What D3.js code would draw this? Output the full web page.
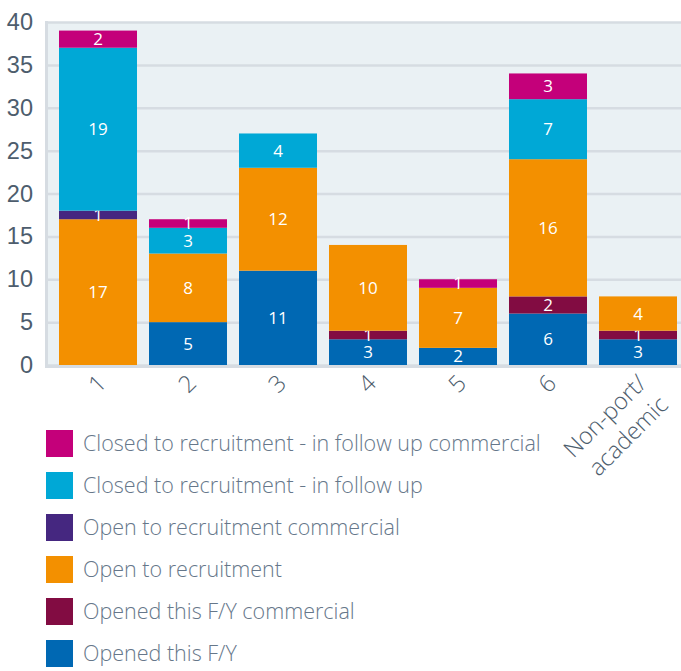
<!DOCTYPE html>
<html lang="en">
<head>
<meta charset="utf-8">
<title>Studies by group</title>
<script src="https://cdn.jsdelivr.net/npm/d3@7/dist/d3.min.js"></script>
<style>
  body { margin: 0; background: #fff; }
  svg { display: block; font-family: "Open Sans", "DejaVu Sans", sans-serif; }
  .tick text { fill: #4d5d6d; font-size: 23.5px; font-weight: 300; }
  .xlab { fill: #4d5d6d; font-size: 23.5px; font-weight: 300; }
  .seg { fill: #fff; font-size: 17px; }
  .legend text { fill: #66778a; font-size: 21.5px; font-weight: 300; }
</style>
</head>
<body>
<svg width="681" height="671"></svg>
<script>
// categories and tick labels
var categories = ["1", "2", "3", "4", "5", "6", "Non-port/academic"];
var tickLines = [["1"], ["2"], ["3"], ["4"], ["5"], ["6"], ["Non-port/", "academic"]];

// series values, stacked bottom to top
var openedFY = [0, 5, 11, 3, 2, 6, 3];
var openedFYCommercial = [0, 0, 0, 1, 0, 2, 1];
var openToRecruitment = [17, 8, 12, 10, 7, 16, 4];
var openCommercial = [1, 0, 0, 0, 0, 0, 0];
var closedFollowUp = [19, 3, 4, 0, 0, 7, 0];
var closedFollowUpCommercial = [2, 1, 0, 0, 1, 3, 0];

var seriesNames = ["Opened this F/Y", "Opened this F/Y commercial", "Open to recruitment",
  "Open to recruitment commercial", "Closed to recruitment - in follow up",
  "Closed to recruitment - in follow up commercial"];
var seriesValues = [openedFY, openedFYCommercial, openToRecruitment,
  openCommercial, closedFollowUp, closedFollowUpCommercial];
var seriesColors = ["#0068b3", "#820c42", "#f39000", "#452780", "#00a8d6", "#c4007a"];

var yTicks = [0, 5, 10, 15, 20, 25, 30, 35, 40];

var svg = d3.select("svg");
var plotLeft = 45, plotRight = 681, plotTop = 22, plotBottom = 365;

var x = d3.scaleBand().domain(categories).range([53, 683])
  .paddingInner(0.1333).paddingOuter(0.0667);
var y = d3.scaleLinear().domain([0, 40]).range([plotBottom, plotTop]);

// build rows for the stack
var rows = categories.map(function(c, i) {
  var r = { cat: c };
  seriesNames.forEach(function(s, j) { r[s] = seriesValues[j][i]; });
  return r;
});
var stacked = d3.stack().keys(seriesNames)(rows);

// plot background
svg.append("rect")
  .attr("x", plotLeft).attr("y", plotTop)
  .attr("width", plotRight - plotLeft).attr("height", plotBottom - plotTop)
  .attr("fill", "#eaf1f4");

// y axis with gridlines
var yAxis = svg.append("g")
  .attr("transform", "translate(" + plotLeft + ",0)")
  .call(d3.axisLeft(y).tickValues(yTicks).tickSizeInner(-(plotRight - plotLeft)).tickSizeOuter(0).tickPadding(12));
yAxis.select(".domain").remove();
yAxis.selectAll(".tick line").attr("stroke", "#d6dce2").attr("stroke-width", 2.5);

// left and bottom lines
svg.append("line").attr("x1", plotLeft + 1.5).attr("x2", plotLeft + 1.5).attr("y1", plotTop - 1).attr("y2", plotBottom + 2)
  .attr("stroke", "#d6dce2").attr("stroke-width", 3);
svg.append("line").attr("x1", plotLeft).attr("x2", plotRight).attr("y1", plotBottom + 1.5).attr("y2", plotBottom + 1.5)
  .attr("stroke", "#d6dce2").attr("stroke-width", 3);

// bars
var layer = svg.selectAll(".layer").data(stacked).enter().append("g")
  .attr("class", "layer")
  .attr("fill", function(d, i) { return seriesColors[i]; });

layer.selectAll("rect").data(function(d) { return d; }).enter().append("rect")
  .attr("x", function(d) { return x(d.data.cat); })
  .attr("y", function(d) { return y(d[1]); })
  .attr("width", x.bandwidth())
  .attr("height", function(d) { return y(d[0]) - y(d[1]); });

// segment values
layer.selectAll("text").data(function(d) { return d.filter(function(p) { return p[1] - p[0] > 0; }); })
  .enter().append("text")
  .attr("class", "seg")
  .attr("x", function(d) { return x(d.data.cat) + x.bandwidth() / 2; })
  .attr("y", function(d) { return (y(d[0]) + y(d[1])) / 2; })
  .attr("dy", "0.35em")
  .attr("text-anchor", "middle")
  .text(function(d) { return d[1] - d[0]; });

// x tick labels, rotated
categories.forEach(function(c, i) {
  var t = svg.append("text")
    .attr("class", "xlab")
    .attr("text-anchor", "end")
    .attr("transform", "translate(" + (x(c) + x.bandwidth() / 2 + 4) + ",379) rotate(-45)");
  tickLines[i].forEach(function(line, k) {
    t.append("tspan").attr("x", 0).attr("dy", k === 0 ? "0.35em" : "1.3em").text(line);
  });
});

// legend, top entry is the top of the stack
var legendOrder = d3.range(seriesNames.length).reverse();
var legend = svg.append("g").attr("class", "legend");
legendOrder.forEach(function(j, k) {
  var g = legend.append("g").attr("transform", "translate(46," + (430 + k * 42) + ")");
  g.append("rect").attr("width", 27).attr("height", 27).attr("fill", seriesColors[j]);
  g.append("text").attr("x", 37).attr("y", 13.5).attr("dy", "0.35em").text(seriesNames[j]);
});
</script>
</body>
</html>
